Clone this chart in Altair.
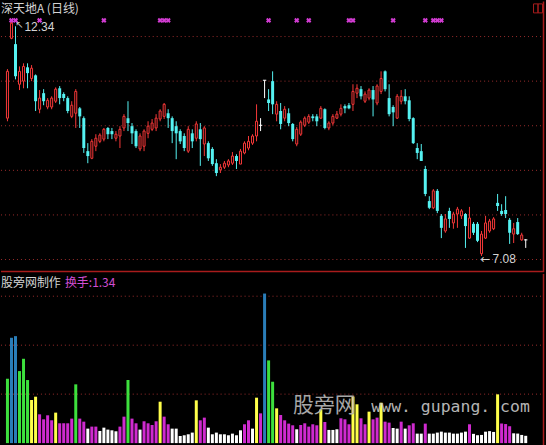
import altair as alt
import pandas as pd

# ---- daily prices (深天地A) ----
opens = [10.17, 11.96, 11.83, 10.93, 11.00, 11.31, 11.06, 11.13, 10.37, 10.73,
         10.42, 10.42, 10.55, 10.84, 10.71, 10.62, 10.21, 10.28, 10.39, 10.17,
         9.43, 9.27, 9.54, 9.65, 9.70, 9.95, 9.88, 9.72, 9.77, 9.95,
         10.17, 9.99, 9.88, 9.48, 9.54, 9.83, 9.92, 9.95, 10.15, 10.21,
         10.28, 10.17, 9.99, 9.88, 9.77, 9.43, 9.83, 9.72, 9.92, 9.59,
         9.61, 9.48, 9.16, 9.01, 9.07, 9.12, 9.16, 9.32, 9.14, 9.39,
         9.50, 9.61, 9.77, 10.01, 11.02, 10.59, 11.00, 10.26, 10.33, 10.17,
         10.28, 10.04, 9.59, 9.81, 10.01, 10.08, 10.21, 10.21, 10.17, 10.37,
         9.95, 10.06, 10.17, 10.26, 10.44, 10.46, 10.48, 10.73, 10.82, 10.55,
         10.62, 10.80, 10.51, 10.77, 11.22, 10.62, 10.42, 10.17, 10.55, 10.66,
         10.57, 10.17, 9.50, 9.43, 9.03, 8.31, 8.16, 8.54, 7.98, 7.64,
         8.09, 7.82, 8.02, 7.98, 8.02, 7.48, 7.80, 7.80, 7.13, 7.48,
         7.64, 7.69, 8.27, 8.09, 8.11, 7.89, 7.57, 7.84, 7.44, 7.44]
highs = [11.27, 12.34, 12.23, 11.33, 11.40, 11.40, 11.36, 11.15, 10.80, 10.82,
         10.62, 10.66, 10.86, 10.89, 10.75, 10.66, 10.55, 10.82, 10.42, 10.21,
         9.61, 9.70, 9.81, 9.83, 9.95, 9.97, 9.95, 9.88, 9.99, 10.26,
         10.55, 10.06, 9.92, 9.83, 9.92, 10.10, 10.15, 10.26, 10.37, 10.51,
         10.37, 10.21, 10.10, 9.92, 9.83, 9.99, 9.92, 10.10, 10.06, 9.99,
         9.65, 9.52, 9.25, 9.14, 9.21, 9.25, 9.41, 9.36, 9.48, 9.65,
         9.77, 9.81, 10.48, 10.17, 11.02, 10.82, 11.22, 10.55, 10.51, 10.44,
         10.39, 10.06, 9.97, 10.12, 10.21, 10.26, 10.26, 10.26, 10.44, 10.39,
         10.10, 10.26, 10.33, 10.48, 10.48, 10.51, 10.93, 10.93, 10.89, 10.77,
         10.84, 10.89, 10.93, 11.22, 11.24, 10.93, 10.46, 10.71, 10.80, 10.82,
         10.66, 10.19, 9.61, 9.59, 9.10, 8.42, 8.58, 8.58, 8.02, 8.02,
         8.16, 8.07, 8.18, 8.13, 8.04, 8.18, 7.84, 7.84, 7.64, 7.98,
         7.91, 7.95, 8.47, 8.24, 8.42, 7.93, 7.82, 7.93, 7.60, 7.46]
lows = [10.10, 11.94, 11.04, 10.80, 10.84, 10.84, 11.00, 10.33, 10.28, 10.46,
        10.37, 10.37, 10.51, 10.48, 10.55, 10.28, 10.17, 9.95, 9.95, 9.39,
        9.16, 9.25, 9.43, 9.61, 9.65, 9.70, 9.70, 9.65, 9.50, 9.88,
        9.88, 9.59, 9.50, 9.43, 9.43, 9.72, 9.88, 9.88, 10.10, 10.15,
        9.95, 9.61, 9.25, 9.59, 9.43, 9.39, 9.50, 9.65, 9.10, 9.32,
        9.21, 9.10, 8.87, 8.94, 9.03, 9.07, 9.12, 9.03, 9.14, 9.36,
        9.45, 9.57, 9.65, 9.88, 10.62, 10.33, 10.26, 10.10, 9.92, 10.10,
        9.99, 9.65, 9.54, 9.77, 9.97, 10.04, 10.10, 9.99, 10.15, 9.92,
        9.90, 10.01, 10.15, 10.21, 10.28, 10.37, 10.33, 10.62, 10.59, 10.51,
        10.57, 10.21, 10.46, 10.71, 10.77, 10.21, 9.99, 10.15, 10.48, 10.48,
        10.10, 9.59, 9.25, 9.21, 8.42, 8.13, 8.13, 8.04, 7.48, 7.60,
        7.71, 7.69, 7.71, 7.91, 7.26, 7.46, 7.55, 7.39, 7.08, 7.46,
        7.60, 7.66, 8.09, 7.98, 7.93, 7.35, 7.37, 7.55, 7.42, 7.26]
closes = [11.22, 12.30, 11.11, 11.22, 11.33, 11.18, 11.29, 10.55, 10.62, 10.55,
          10.57, 10.62, 10.82, 10.62, 10.62, 10.33, 10.46, 10.77, 10.21, 9.50,
          9.32, 9.65, 9.72, 9.79, 9.92, 9.81, 9.81, 9.81, 9.92, 10.21,
          10.06, 9.83, 9.54, 9.77, 9.88, 9.99, 10.06, 10.17, 10.33, 10.48,
          10.17, 9.88, 9.83, 9.65, 9.50, 9.92, 9.65, 10.04, 9.70, 9.95,
          9.27, 9.14, 8.94, 9.07, 9.16, 9.21, 9.32, 9.21, 9.43, 9.61,
          9.65, 9.77, 10.10, 10.01, 11.02, 10.51, 10.48, 10.48, 10.04, 10.37,
          10.06, 9.70, 9.92, 10.08, 10.17, 10.21, 10.17, 10.10, 10.39, 9.95,
          10.06, 10.21, 10.26, 10.39, 10.39, 10.39, 10.77, 10.84, 10.66, 10.71,
          10.80, 10.59, 10.89, 11.06, 10.82, 10.26, 10.30, 10.66, 10.66, 10.55,
          10.15, 9.61, 9.39, 9.21, 8.47, 8.16, 8.54, 8.09, 7.71, 7.91,
          7.91, 8.02, 8.13, 8.09, 7.75, 7.93, 7.60, 7.42, 7.57, 7.82,
          7.86, 7.91, 8.20, 8.02, 8.02, 7.60, 7.69, 7.57, 7.55, 7.44]

# ---- daily turnover (%) and its colour band ----
turnover = [11.83, 19.36, 19.66, 13.24, 15.50, 11.59, 7.92, 8.53, 5.29, 4.37,
            5.11, 4.19, 5.60, 3.64, 3.64, 3.64, 4.50, 10.80, 4.50, 3.94,
            2.66, 3.03, 3.03, 2.23, 2.84, 2.48, 2.35, 2.17, 3.03, 4.86,
            11.59, 4.50, 3.64, 2.48, 4.01, 3.64, 3.33, 4.01, 7.61, 4.86,
            3.46, 2.66, 2.66, 1.31, 1.44, 1.62, 1.93, 7.86, 4.19, 4.68,
            2.84, 1.62, 1.93, 1.62, 1.62, 1.44, 1.74, 1.44, 2.35, 3.46,
            4.19, 2.66, 8.35, 5.47, 27.49, 15.20, 11.28, 6.39, 5.17, 4.19,
            3.58, 3.27, 2.54, 3.33, 3.64, 3.03, 3.46, 3.27, 6.21, 3.88,
            2.42, 2.42, 2.54, 4.56, 4.37, 3.46, 8.53, 7.13, 4.56, 3.46,
            5.78, 4.37, 4.68, 7.43, 3.94, 3.76, 2.78, 2.66, 3.94, 2.66,
            3.27, 3.64, 1.74, 1.74, 3.58, 1.74, 1.74, 1.93, 2.11, 1.93,
            1.93, 1.74, 1.74, 1.93, 2.11, 3.46, 1.70, 1.45, 1.50, 2.10,
            2.20, 2.05, 8.96, 3.60, 3.50, 3.10, 1.80, 1.75, 1.50, 1.34]
turn_level = list("GBBGGGYYMMMMYMMMMGMMWMMWWWWWMMGMMWMMMMYMMWWW"
                  "WWWYMMWWWWWWWWWMMWYMBGGYMMMMWMMMMMYMWWWMMMYYM"
                  "MYMMYMMWWMWMMWWMWWWWWWWWWWMWWWWWWYMMMWWWW")

signal_days = [1, 2, 8, 24, 38, 39, 40, 65, 72, 75, 85, 86, 96, 104, 106, 107, 108]
price_grid = [7, 8, 9, 10, 11, 12]
turn_grid = [9, 18, 27]

stock_title = "深天地A (日线)"
panel_note = "股旁网制作"
brand_cn = "股旁网"
brand_url = "www. gupang. com"

RED = "#f53838"
CYAN = "#55f2f2"
WHITE = "#ffffff"
MAGENTA = "#d23cd2"
GRID = "#9a2c2c"
FRAME = "#a81c1c"
LABEL = "#d4d4d4"

W, TOP_H, BOT_H = 546, 271, 174
PITCH = 4.1

n = len(closes)
candles = pd.DataFrame({"i": list(range(n)), "open": opens, "high": highs,
                        "low": lows, "close": closes})
candles["dir"] = ["up" if c > o else ("down" if c < o else "flat")
                  for o, c in zip(opens, closes)]
candles["left"] = candles["i"] - 0.42
candles["right"] = candles["i"] + 0.42

vol = pd.DataFrame({"i": list(range(len(turnover))), "t": turnover, "lvl": turn_level})

x_scale = alt.Scale(domain=[-1.5 / PITCH, (W - 1.5) / PITCH], nice=False, zero=False)
p_scale = alt.Scale(domain=[6.722, 12.788], nice=False, zero=False)
t_scale = alt.Scale(domain=[-0.826, 31.1], nice=False, zero=False)

X = alt.X("i:Q", scale=x_scale, axis=None)
one = pd.DataFrame({"k": [0]})

# ---------------- price panel ----------------
pgrid = alt.Chart(pd.DataFrame({"p": price_grid})).mark_rule(
    color=GRID, strokeDash=[1, 3], strokeWidth=1
).encode(y=alt.Y("p:Q", scale=p_scale, axis=None), x=alt.value(0), x2=alt.value(543))

wicks = alt.Chart(candles).mark_rule(strokeWidth=1).encode(
    x=X,
    y=alt.Y("low:Q", scale=p_scale, axis=None),
    y2="high:Q",
    color=alt.Color("dir:N", scale=alt.Scale(domain=["up", "down", "flat"],
                                             range=[RED, CYAN, WHITE]), legend=None),
)

up_body = alt.Chart(candles).transform_filter("datum.dir == 'up'").mark_bar(
    size=2, fill="#000000", stroke=RED, strokeWidth=1
).encode(x=X, y=alt.Y("open:Q", scale=p_scale, axis=None), y2="close:Q")

down_body = alt.Chart(candles).transform_filter("datum.dir == 'down'").mark_bar(
    size=3, color=CYAN
).encode(x=X, y=alt.Y("open:Q", scale=p_scale, axis=None), y2="close:Q")

flat_body = alt.Chart(candles).transform_filter("datum.dir == 'flat'").mark_rule(
    color=WHITE, strokeWidth=1
).encode(x=alt.X("left:Q", scale=x_scale, axis=None), x2="right:Q",
         y=alt.Y("close:Q", scale=p_scale, axis=None))

signals = alt.Chart(pd.DataFrame({"i": signal_days})).mark_point(
    shape="cross", angle=45, filled=True, size=28, color=MAGENTA, opacity=1
).encode(x=X, y=alt.value(19))

hi_row = candles.loc[candles["high"].idxmax()]
lo_row = candles.loc[candles["low"].idxmin()]
extremes = pd.DataFrame({
    "i": [hi_row["i"], lo_row["i"]],
    "p": [hi_row["high"], lo_row["low"]],
    "kind": ["hi", "lo"],
    "num": [f"{hi_row['high']:.2f}", f"{lo_row['low']:.2f}"],
})
hi_arrow = alt.Chart(extremes).transform_filter("datum.kind == 'hi'").mark_text(
    text="↖", align="left", baseline="top", dx=4, dy=-1, fontSize=10,
    font="DejaVu Sans", color=LABEL
).encode(x=X, y=alt.Y("p:Q", scale=p_scale, axis=None))
hi_text = alt.Chart(extremes).transform_filter("datum.kind == 'hi'").mark_text(
    align="left", baseline="top", dx=13, dy=1, fontSize=12,
    font="Liberation Sans", color=LABEL
).encode(x=X, y=alt.Y("p:Q", scale=p_scale, axis=None), text="num:N")
lo_arrow = alt.Chart(extremes).transform_filter("datum.kind == 'lo'").mark_text(
    text="←", align="left", baseline="middle", dx=-1, dy=3, fontSize=12,
    font="DejaVu Sans", color=LABEL
).encode(x=X, y=alt.Y("p:Q", scale=p_scale, axis=None))
lo_text = alt.Chart(extremes).transform_filter("datum.kind == 'lo'").mark_text(
    align="left", baseline="middle", dx=11, dy=3, fontSize=12,
    font="Liberation Sans", color=LABEL
).encode(x=X, y=alt.Y("p:Q", scale=p_scale, axis=None), text="num:N")

title_txt = alt.Chart(pd.DataFrame({"s": [stock_title]})).mark_text(
    align="left", baseline="middle", fontSize=12, font="Noto Sans CJK SC", color=LABEL
).encode(x=alt.value(0), y=alt.value(8), text="s:N")

sep_line = alt.Chart(one).mark_rule(color=FRAME, strokeWidth=1.5).encode(
    x=alt.value(0), x2=alt.value(544), y=alt.value(270.5))
right_top = alt.Chart(one).mark_rule(color=FRAME, strokeWidth=1.5).encode(
    x=alt.value(543.5), y=alt.value(0), y2=alt.value(TOP_H))
icon_a = alt.Chart(one).mark_rect(fillOpacity=0, stroke=FRAME, strokeWidth=1).encode(
    x=alt.value(533.5), x2=alt.value(538), y=alt.value(2.5), y2=alt.value(11.5))
icon_b = alt.Chart(one).mark_rect(fillOpacity=0, stroke=FRAME, strokeWidth=1).encode(
    x=alt.value(538), x2=alt.value(542.5), y=alt.value(2.5), y2=alt.value(11.5))

top = alt.layer(
    pgrid, wicks, up_body, down_body, flat_body, signals,
    hi_arrow, hi_text, lo_arrow, lo_text, title_txt, sep_line, right_top, icon_a, icon_b
).properties(width=W, height=TOP_H)

# ---------------- turnover panel ----------------
tgrid = alt.Chart(pd.DataFrame({"t": turn_grid})).mark_rule(
    color=GRID, strokeDash=[1, 3], strokeWidth=1
).encode(y=alt.Y("t:Q", scale=t_scale, axis=None), x=alt.value(0), x2=alt.value(543))

bars = alt.Chart(vol).mark_bar(size=3).encode(
    x=X,
    y=alt.Y("t:Q", scale=t_scale, axis=None),
    color=alt.Color("lvl:N", scale=alt.Scale(domain=["W", "M", "Y", "G", "B"],
                    range=["#ffffff", "#cf2acf", "#ffff4a", "#3de03d", "#2a7db8"]),
                    legend=None),
)

note_txt = alt.Chart(pd.DataFrame({"s": [panel_note]})).mark_text(
    align="left", baseline="middle", fontSize=12, font="Noto Sans CJK SC", color=LABEL
).encode(x=alt.value(0), y=alt.value(9), text="s:N")

last_txt = alt.Chart(pd.DataFrame({"s": [f"换手:{turnover[-1]:.2f}"]})).mark_text(
    align="left", baseline="middle", fontSize=12, font="Noto Sans CJK SC", color="#d24ed2"
).encode(x=alt.value(64), y=alt.value(9), text="s:N")

brand1 = alt.Chart(pd.DataFrame({"s": [brand_cn]})).mark_text(
    align="center", baseline="middle", fontSize=21, font="Noto Sans CJK SC",
    color="#b8b8b8", opacity=0.9
).encode(x=alt.value(324), y=alt.value(132), text="s:N")

brand2 = alt.Chart(pd.DataFrame({"s": [brand_url]})).mark_text(
    align="left", baseline="alphabetic", fontSize=16.5, font="DejaVu Sans Mono",
    color="#c8c8c8", opacity=0.9
).encode(x=alt.value(371), y=alt.value(138.5), text="s:N")

bottom_line = alt.Chart(one).mark_rule(color=FRAME, strokeWidth=2).encode(
    x=alt.value(0), x2=alt.value(544), y=alt.value(172.5))
right_bot = alt.Chart(one).mark_rule(color=FRAME, strokeWidth=1.5).encode(
    x=alt.value(543.5), y=alt.value(0), y2=alt.value(BOT_H))

bottom = alt.layer(
    tgrid, bars, brand1, brand2, note_txt, last_txt, bottom_line, right_bot
).properties(width=W, height=BOT_H)

chart = alt.vconcat(top, bottom, spacing=0).resolve_scale(
    color="independent"
).properties(
    padding=0, background="#000000"
).configure_view(strokeWidth=0)

chart.save("out.html", embed_options={"renderer": "svg", "actions": False})
